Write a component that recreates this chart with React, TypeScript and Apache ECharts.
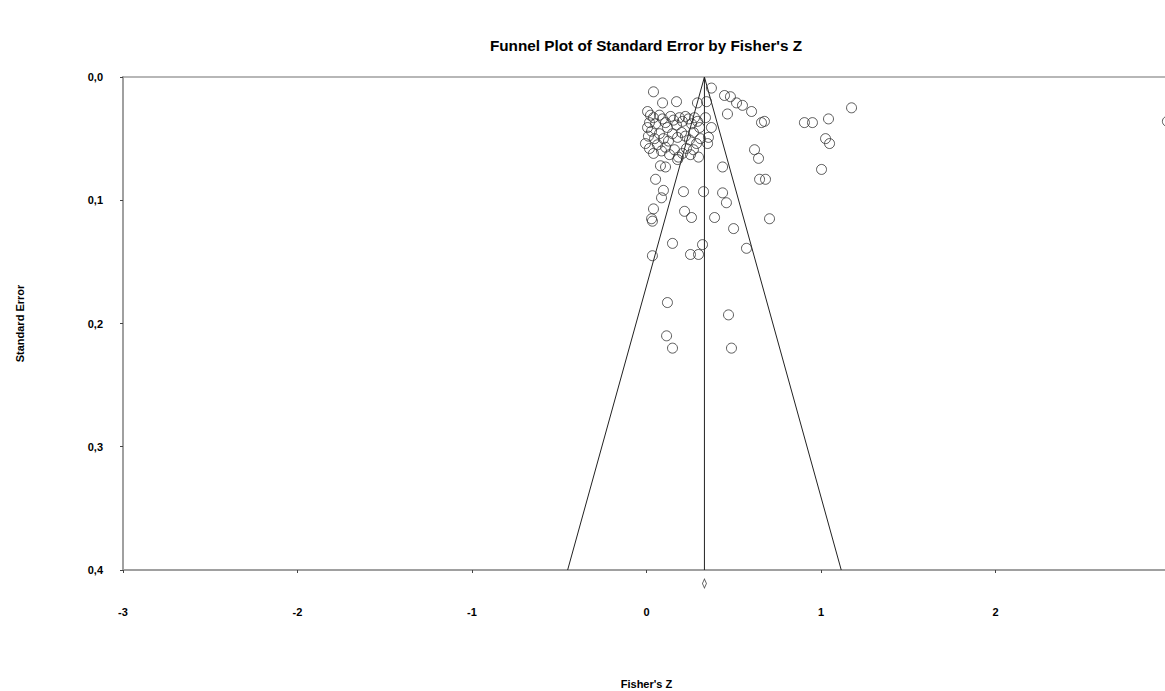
import React, { useEffect, useRef } from "react";
import * as echarts from "echarts";

// Study effect sizes (Fisher's Z) and their standard errors
const fisherZ = [
  0.040, 0.372, 0.344, 0.447, 0.481, 0.516, 0.550, 0.602, 0.659, 0.676,
  0.464, 0.338, 0.372, 0.092, 0.172, 0.292, 1.175, 0.905, 0.951, 1.043,
  1.026, 1.049, 1.003, 2.985,
  0.006, 0.023, 0.040, 0.017, 0.052, 0.006, 0.029, 0.011, 0.046, 0.074,
  0.092, 0.109, 0.120, 0.138, 0.155, 0.172, 0.189, 0.206, 0.223, 0.241,
  0.258, 0.275, 0.292, 0.304, 0.074, 0.097, 0.126, 0.149, 0.178, 0.201,
  0.223, 0.246, 0.269, 0.287, 0.309, -0.006, 0.017, 0.040, 0.063, 0.086,
  0.109, 0.132, 0.160, 0.183, 0.206, 0.229, 0.252, 0.269, 0.298, 0.080,
  0.109, 0.178, 0.350, 0.355, 0.436, 0.619, 0.642,
  0.052, 0.097, 0.086, 0.212, 0.327, 0.436, 0.458, 0.648, 0.682, 0.040,
  0.034, 0.029, 0.218, 0.258, 0.390, 0.499, 0.705, 0.149, 0.321, 0.034,
  0.252, 0.298, 0.573, 0.120, 0.470, 0.115, 0.149, 0.487,
];
const standardError = [
  0.012, 0.009, 0.020, 0.015, 0.016, 0.021, 0.023, 0.028, 0.037, 0.036,
  0.030, 0.033, 0.041, 0.021, 0.020, 0.021, 0.025, 0.037, 0.037, 0.034,
  0.050, 0.054, 0.075, 0.036,
  0.028, 0.031, 0.033, 0.037, 0.038, 0.041, 0.044, 0.048, 0.050, 0.031,
  0.034, 0.037, 0.041, 0.032, 0.035, 0.039, 0.033, 0.036, 0.032, 0.034,
  0.038, 0.033, 0.036, 0.041, 0.046, 0.050, 0.052, 0.046, 0.049, 0.045,
  0.048, 0.051, 0.045, 0.054, 0.050, 0.054, 0.058, 0.062, 0.055, 0.060,
  0.057, 0.063, 0.059, 0.065, 0.062, 0.058, 0.063, 0.059, 0.065, 0.072,
  0.073, 0.067, 0.054, 0.049, 0.073, 0.059, 0.066,
  0.083, 0.092, 0.098, 0.093, 0.093, 0.094, 0.102, 0.083, 0.083, 0.107,
  0.117, 0.115, 0.109, 0.114, 0.114, 0.123, 0.115, 0.135, 0.136, 0.145,
  0.144, 0.144, 0.139, 0.183, 0.193, 0.210, 0.220, 0.220,
];

// Combined estimate and 95% funnel limits
const meanZ = 0.332;
const funnelZ = [-0.452, 0.332, 1.116];
const funnelSE = [0.4, 0.0, 0.4];
const meanLineSE = [0.0, 0.4];
const diamondSE = 0.411;

const xTicks = [-3, -2, -1, 0, 1, 2, 3];
const xTickLabels = ["-3", "-2", "-1", "0", "1", "2", ""];
const seTicks = [0, 0.1, 0.2, 0.3, 0.4];

const FONT = "'Liberation Sans', Arial, Helvetica, sans-serif";

export default function App() {
  const ref = useRef<HTMLDivElement>(null);

  useEffect(() => {
    const chart = echarts.init(ref.current as HTMLDivElement, null, { renderer: "svg" });
    const studies = fisherZ.map((z, i) => [z, standardError[i]]);
    const funnel = funnelZ.map((z, i) => [z, funnelSE[i]]);
    const meanLine = meanLineSE.map((s) => [meanZ, s]);

    chart.setOption({
      animation: false,
      backgroundColor: "#ffffff",
      textStyle: { fontFamily: FONT },
      graphic: [
        {
          type: "text",
          x: 646,
          y: 45,
          style: {
            text: "Funnel Plot of Standard Error by Fisher's Z",
            fontFamily: FONT,
            fontSize: 15.3,
            fontWeight: "bold",
            fill: "#000",
            align: "center",
            verticalAlign: "middle",
          },
        },
      ],
      grid: {
        left: 123,
        top: 77,
        right: -5,
        bottom: 121,
        containLabel: false,
        outerBoundsMode: "none",
        show: true,
        borderColor: "#a0a0a0",
        borderWidth: 1.5,
        backgroundColor: "transparent",
      },
      xAxis: {
        type: "value",
        min: xTicks[0],
        max: xTicks[xTicks.length - 1],
        interval: 1,
        name: "Fisher's Z",
        nameLocation: "middle",
        nameGap: 108,
        nameTextStyle: { fontFamily: FONT, fontSize: 11, fontWeight: "bold", color: "#000" },
        axisLine: { show: true, onZero: false, lineStyle: { color: "#a0a0a0", width: 2 } },
        axisTick: { show: true, inside: false, length: 3, lineStyle: { color: "#444", width: 1 } },
        axisLabel: {
          margin: 36,
          fontFamily: FONT,
          fontSize: 11,
          fontWeight: "bold",
          color: "#000",
          formatter: (v: number) => {
            const i = xTicks.indexOf(Math.round(v));
            return i >= 0 ? xTickLabels[i] : "";
          },
        },
        splitLine: { show: false },
      },
      yAxis: {
        type: "value",
        inverse: true,
        min: seTicks[0],
        max: seTicks[seTicks.length - 1],
        interval: 0.1,
        name: "Standard Error",
        nameLocation: "middle",
        nameRotate: 90,
        nameGap: 98,
        nameTextStyle: { fontFamily: FONT, fontSize: 11, fontWeight: "bold", color: "#000" },
        axisLine: { show: true, onZero: false, lineStyle: { color: "#a0a0a0", width: 2 } },
        axisTick: { show: true, inside: false, length: 3, lineStyle: { color: "#444", width: 1 } },
        axisLabel: {
          margin: 20,
          fontFamily: FONT,
          fontSize: 11,
          fontWeight: "bold",
          color: "#000",
          formatter: (v: number) => v.toFixed(1).replace(".", ","),
        },
        splitLine: { show: false },
      },
      series: [
        {
          type: "line",
          data: funnel,
          symbol: "none",
          lineStyle: { color: "#222", width: 1 },
          z: 1,
        },
        {
          type: "line",
          data: meanLine,
          symbol: "none",
          lineStyle: { color: "#222", width: 1 },
          z: 1,
        },
        {
          type: "scatter",
          data: studies,
          symbol: "circle",
          symbolSize: 10,
          clip: false,
          itemStyle: { color: "rgba(0,0,0,0)", borderColor: "#333", borderWidth: 1 },
          z: 2,
        },
        {
          type: "scatter",
          data: [[meanZ, diamondSE]],
          symbol: "diamond",
          symbolSize: [4, 9],
          clip: false,
          itemStyle: { color: "rgba(0,0,0,0)", borderColor: "#333", borderWidth: 1 },
          z: 2,
        },
      ],
    });

    return () => chart.dispose();
  }, []);

  return (
    <div
      ref={ref}
      style={{ position: "absolute", left: 0, top: 0, width: 1165, height: 691, overflow: "hidden" }}
    />
  );
}
